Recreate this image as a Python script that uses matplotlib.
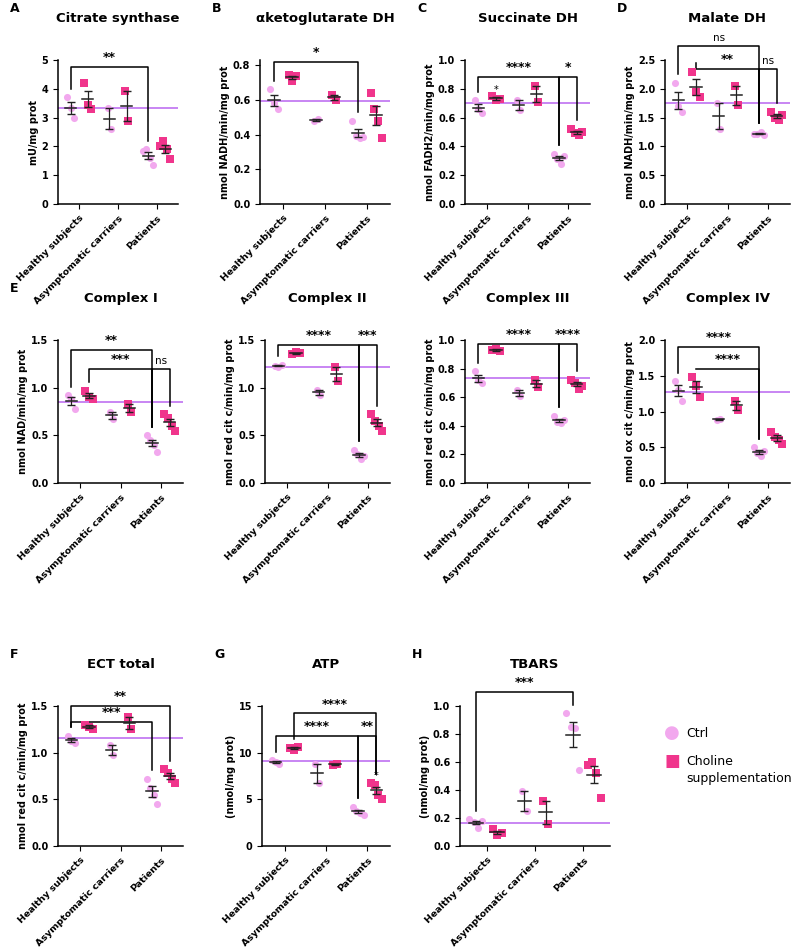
import matplotlib.pyplot as plt
import numpy as np

groups = ['Healthy subjects', 'Asymptomatic carriers', 'Patients']
CTRL = '#f2a8ee'
CHOL = '#f0358c'
REF = '#c47cf2'

# panel data: ctrl / choline values per group
cs_ctrl = [[3.7, 3.35, 2.97], [3.33, 2.6], [1.85, 1.9, 1.6, 1.35]]
cs_chol = [[4.2, 3.45, 3.3], [3.92, 2.88], [2.0, 2.18, 1.9, 1.57]]
akg_ctrl = [[0.66, 0.58, 0.55], [0.478, 0.49], [0.48, 0.39, 0.38, 0.385]]
akg_chol = [[0.745, 0.71, 0.735], [0.63, 0.6], [0.64, 0.545, 0.48, 0.38]]
sdh_ctrl = [[0.72, 0.66, 0.63], [0.72, 0.65], [0.35, 0.31, 0.28, 0.33]]
sdh_chol = [[0.75, 0.72, 0.73], [0.82, 0.71], [0.52, 0.49, 0.48, 0.5]]
mdh_ctrl = [[2.1, 1.7, 1.6], [1.75, 1.3], [1.22, 1.22, 1.25, 1.2]]
mdh_chol = [[2.3, 1.95, 1.85], [2.05, 1.72], [1.6, 1.5, 1.45, 1.55]]
c1_ctrl = [[0.92, 0.88, 0.78], [0.75, 0.67], [0.5, 0.45, 0.4, 0.33]]
c1_chol = [[0.97, 0.9, 0.88], [0.83, 0.75], [0.72, 0.68, 0.6, 0.55]]
c2_ctrl = [[1.23, 1.22, 1.24], [0.98, 0.92], [0.35, 0.3, 0.25, 0.28]]
c2_chol = [[1.35, 1.37, 1.36], [1.22, 1.07], [0.72, 0.65, 0.6, 0.55]]
c3_ctrl = [[0.78, 0.72, 0.7], [0.65, 0.61], [0.47, 0.43, 0.42, 0.44]]
c3_chol = [[0.93, 0.94, 0.92], [0.72, 0.67], [0.72, 0.7, 0.66, 0.68]]
c4_ctrl = [[1.42, 1.3, 1.15], [0.88, 0.9], [0.5, 0.42, 0.38, 0.45]]
c4_chol = [[1.48, 1.35, 1.2], [1.15, 1.02], [0.72, 0.65, 0.6, 0.55]]
ect_ctrl = [[1.18, 1.12, 1.1], [1.08, 0.98], [0.72, 0.62, 0.55, 0.45]]
ect_chol = [[1.3, 1.28, 1.25], [1.38, 1.25], [0.82, 0.78, 0.72, 0.68]]
atp_ctrl = [[9.2, 9.0, 8.8], [8.8, 6.8], [4.2, 3.8, 3.5, 3.3]]
atp_chol = [[10.5, 10.3, 10.6], [8.7, 8.8], [6.8, 6.5, 5.5, 5.0]]
tb_ctrl = [[0.19, 0.17, 0.13, 0.18], [0.39, 0.25], [0.95, 0.85, 0.84, 0.54]]
tb_chol = [[0.12, 0.08, 0.09], [0.32, 0.16], [0.58, 0.6, 0.52, 0.34]]

# bracket: (group1, series1, group2, series2, height, label); series 0=ctrl 1=chol
panels = [
    dict(L='A', t='Citrate synthase', yl='mU/mg prot', c=cs_ctrl, s=cs_chol, ref=3.33,
         ylim=5, ticks=[0, 1, 2, 3, 4, 5], fmt='%d', br=[(0, 0, 2, 0, 4.75, '**')],
         pos=(58, 60, 120, 144)),
    dict(L='B', t='αketoglutarate DH', yl='nmol NADH/min/mg prot', c=akg_ctrl, s=akg_chol,
         ref=0.595, ylim=0.83, ticks=[0, 0.2, 0.4, 0.6, 0.8], fmt='%.1f',
         br=[(0, 0, 2, 0, 0.82, '*')], pos=(260, 60, 130, 144)),
    dict(L='C', t='Succinate DH', yl='nmol FADH2/min/mg prot', c=sdh_ctrl, s=sdh_chol,
         ref=0.70, ylim=1.0, ticks=[0, 0.2, 0.4, 0.6, 0.8, 1.0], fmt='%.1f',
         br=[(0, 0, 2, 0, 0.88, '****'), (2, 0, 2, 1, 0.88, '*')], small=(0, 1),
         pos=(465, 60, 125, 144)),
    dict(L='D', t='Malate DH', yl='nmol NADH/min/mg prot', c=mdh_ctrl, s=mdh_chol,
         ref=1.75, ylim=2.5, ticks=[0, 0.5, 1.0, 1.5, 2.0, 2.5], fmt='%.1f',
         br=[(0, 0, 2, 0, 2.75, 'ns'), (0, 1, 2, 0, 2.35, '**'), (2, 0, 2, 1, 2.35, 'ns')],
         pos=(665, 60, 125, 144)),
    dict(L='E', t='Complex I', yl='nmol NAD/min/mg prot', c=c1_ctrl, s=c1_chol,
         ref=0.85, ylim=1.5, ticks=[0, 0.5, 1.0, 1.5], fmt='%.1f',
         br=[(0, 0, 2, 0, 1.4, '**'), (0, 1, 2, 0, 1.2, '***'), (2, 0, 2, 1, 1.2, 'ns')],
         pos=(58, 340, 125, 143)),
    dict(L='', t='Complex II', yl='nmol red cit c/min/mg prot', c=c2_ctrl, s=c2_chol,
         ref=1.22, ylim=1.5, ticks=[0, 0.5, 1.0, 1.5], fmt='%.1f',
         br=[(0, 0, 2, 0, 1.45, '****'), (2, 0, 2, 1, 1.45, '***')],
         pos=(265, 340, 125, 143)),
    dict(L='', t='Complex III', yl='nmol red cit c/min/mg prot', c=c3_ctrl, s=c3_chol,
         ref=0.735, ylim=1.0, ticks=[0, 0.2, 0.4, 0.6, 0.8, 1.0], fmt='%.1f',
         br=[(0, 0, 2, 0, 0.97, '****'), (2, 0, 2, 1, 0.97, '****')],
         pos=(465, 340, 125, 143)),
    dict(L='', t='Complex IV', yl='nmol ox cit c/min/mg prot', c=c4_ctrl, s=c4_chol,
         ref=1.27, ylim=2.0, ticks=[0, 0.5, 1.0, 1.5, 2.0], fmt='%.1f',
         br=[(0, 0, 2, 0, 1.9, '****'), (0, 1, 2, 0, 1.6, '****')],
         pos=(665, 340, 125, 143)),
    dict(L='F', t='ECT total', yl='nmol red cit c/min/mg prot', c=ect_ctrl, s=ect_chol,
         ref=1.16, ylim=1.5, ticks=[0, 0.5, 1.0, 1.5], fmt='%.1f',
         br=[(0, 0, 2, 1, 1.5, '**'), (0, 0, 2, 0, 1.33, '***')],
         pos=(58, 706, 125, 140)),
    dict(L='G', t='ATP', yl='(nmol/mg prot)', c=atp_ctrl, s=atp_chol,
         ref=9.1, ylim=15, ticks=[0, 5, 10, 15], fmt='%d',
         br=[(0, 1, 2, 1, 14.2, '****'), (0, 0, 2, 0, 11.8, '****'), (2, 0, 2, 1, 11.8, '**')],
         small=(2, 1), pos=(262, 706, 128, 140)),
    dict(L='H', t='TBARS', yl='(nmol/mg prot)', c=tb_ctrl, s=tb_chol,
         ref=0.165, ylim=1.0, ticks=[0, 0.2, 0.4, 0.6, 0.8, 1.0], fmt='%.1f',
         br=[(0, 0, 2, 0, 1.1, '***')], pos=(460, 706, 150, 140)),
]

W, H = 800, 947
fig = plt.figure(figsize=(8, 9.47), dpi=100)
off = 0.22

for p in panels:
    x0, y0, w, h = p['pos']
    ax = fig.add_axes([x0 / W, 1 - (y0 + h) / H, w / W, h / H])
    top = {}
    for si, (data, col, mk) in enumerate([(p['c'], CTRL, 'o'), (p['s'], CHOL, 's')]):
        for g, vals in enumerate(data):
            xc = g + (off if si else -off)
            n = len(vals)
            xs = xc + (np.arange(n) - (n - 1) / 2) * 0.09
            ax.scatter(xs, vals, s=26, marker=mk, color=col, zorder=3, lw=0)
            m = np.mean(vals)
            se = np.std(vals, ddof=1) / np.sqrt(n)
            ax.errorbar(xc, m, yerr=se, fmt='none', ecolor='#222', elinewidth=0.9,
                        capsize=3, zorder=4)
            ax.plot([xc - 0.14, xc + 0.14], [m, m], color='#222', lw=1.1, zorder=4)
            top[(g, si)] = (xc, max(vals))
    ax.axhline(p['ref'], color=REF, lw=1.3, zorder=2)
    for g1, s1, g2, s2, yb, lab in p['br']:
        xa, ta = top[(g1, s1)]
        xb, tb = top[(g2, s2)]
        ax.plot([xa, xa, xb, xb], [ta + 0.06 * p['ylim'], yb, yb, tb + 0.06 * p['ylim']],
                color='black', lw=1.1, clip_on=False)
        ax.text((xa + xb) / 2, yb + 0.02 * p['ylim'], lab, ha='center', va='bottom',
                fontsize=9 if lab != 'ns' else 7.5, fontweight='bold' if lab != 'ns' else 'normal')
    if 'small' in p:
        g, si = p['small']
        xc, t = top[(g, si)]
        ax.text(xc, t + 0.01 * p['ylim'], '*', ha='center', va='bottom', fontsize=7)
    ax.set_xlim(-0.55, 2.55)
    ax.set_ylim(0, p['ylim'])
    ax.set_yticks(p['ticks'])
    ax.set_yticklabels([p['fmt'] % v for v in p['ticks']], fontsize=7, fontweight='bold')
    ax.set_xticks(range(3))
    ax.set_xticklabels(groups, rotation=45, ha='right', rotation_mode='anchor',
                       fontsize=6.8, fontweight='bold')
    ax.set_ylabel(p['yl'], fontsize=7, fontweight='bold', labelpad=2)
    for sp in ['top', 'right']:
        ax.spines[sp].set_visible(False)
    for sp in ['left', 'bottom']:
        ax.spines[sp].set_linewidth(1.1)
    fig.text((x0 + w / 2) / W, 1 - (y0 - 38) / H, p['t'], ha='center', fontsize=9.5,
             fontweight='bold')
    if p['L']:
        fig.text((x0 - 48) / W, 1 - (y0 - 48) / H, p['L'], fontsize=9, fontweight='bold')

# legend
fig.text(672 / W, 1 - 733 / H, '●', color=CTRL, fontsize=13, va='center', ha='center')
fig.text(686 / W, 1 - 733 / H, 'Ctrl', fontsize=9, va='center')
fig.text(672 / W, 1 - 761 / H, '■', color=CHOL, fontsize=12, va='center', ha='center')
fig.text(686 / W, 1 - 761 / H, 'Choline', fontsize=9, va='center')
fig.text(686 / W, 1 - 778 / H, 'supplementation', fontsize=9, va='center')

fig.savefig('out.png', dpi=100)
